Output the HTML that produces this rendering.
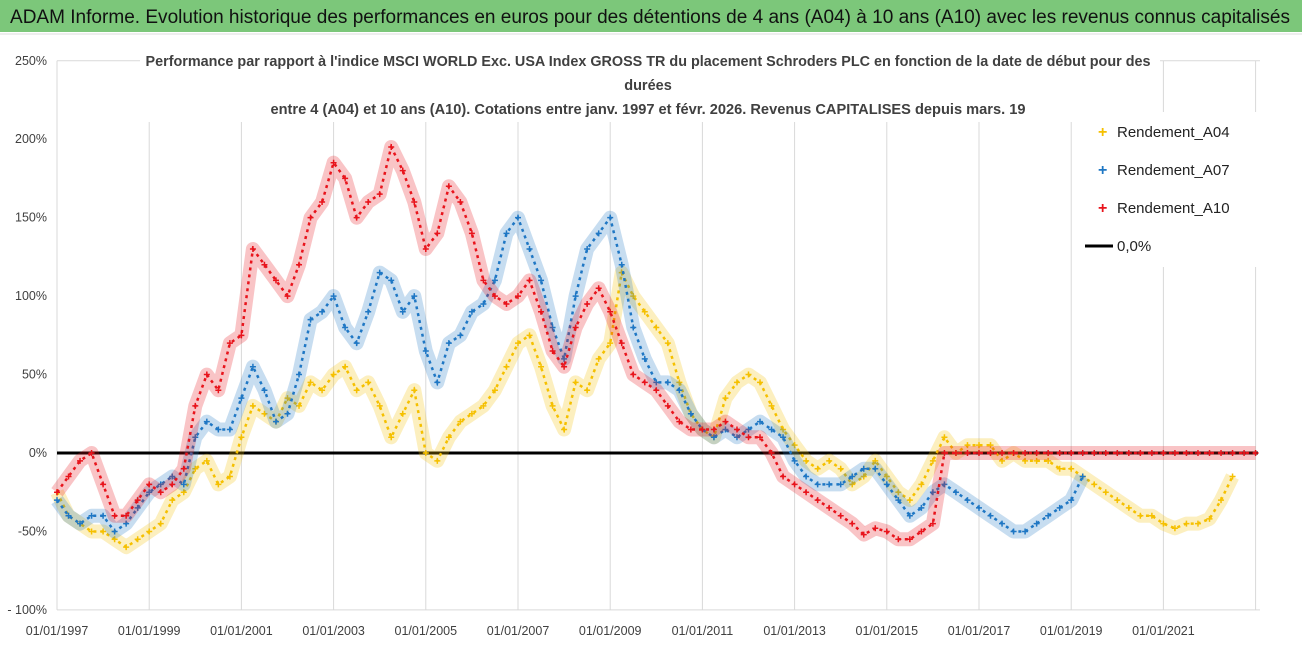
<!DOCTYPE html>
<html><head><meta charset="utf-8"><style>
html,body{margin:0;padding:0;background:#fff;}
svg{display:block;font-family:"Liberation Sans",sans-serif;}
</style></head><body>
<svg id="chart" width="1302" height="647" viewBox="0 0 1302 647" xmlns="http://www.w3.org/2000/svg">
<rect x="0" y="0" width="1302" height="647" fill="#fff"/>
<rect x="0" y="0" width="1302" height="32" fill="#7cc77a"/>
<text x="10" y="23" font-size="19" fill="#111" textLength="1280" lengthAdjust="spacingAndGlyphs">ADAM Informe. Evolution historique des performances en euros pour des détentions de 4 ans (A04) à 10 ans (A10) avec les revenus connus capitalisés</text>
<line x1="0" y1="34" x2="1302" y2="34" stroke="#ddd"/>
<g id="grid"></g>
<g id="yticks"></g>
<g id="xticks"></g>
<rect x="140" y="44" width="1020" height="78" fill="#fff"/>
<g font-size="14.5" font-weight="bold" fill="#404040" text-anchor="middle">
<text x="648" y="66" textLength="1005" lengthAdjust="spacingAndGlyphs">Performance par rapport à l'indice MSCI WORLD Exc. USA Index GROSS TR  du placement Schroders PLC en fonction de la date de début pour des</text>
<text x="648" y="90">durées</text>
<text x="648" y="114" textLength="755" lengthAdjust="spacingAndGlyphs">entre 4 (A04) et 10 ans (A10). Cotations entre janv. 1997 et févr. 2026. Revenus CAPITALISES depuis mars. 19</text>
</g>
<line id="zero" stroke="#000" stroke-width="3"/>
<g id="series"></g>
<rect x="1082" y="112" width="190" height="155" fill="#fff"/>
<g font-size="15" fill="#222">
<g><text x="1098" y="137" fill="#f5c000" font-size="16" font-weight="bold">+</text><text x="1117" y="137">Rendement_A04</text></g>
<g><text x="1098" y="175" fill="#1f77c4" font-size="16" font-weight="bold">+</text><text x="1117" y="175">Rendement_A07</text></g>
<g><text x="1098" y="213" fill="#e8141c" font-size="16" font-weight="bold">+</text><text x="1117" y="213">Rendement_A10</text></g>
<g><line x1="1085" y1="246" x2="1113" y2="246" stroke="#000" stroke-width="3"/><text x="1117" y="251">0,0%</text></g>
</g>
</svg>
<script>
const yTicks=[250,200,150,100,50,0,-50,-100];
const yTickLabels=["250%","200%","150%","100%","50%","0%","-50%","- 100%"];
const xTickYears=[1997,1999,2001,2003,2005,2007,2009,2011,2013,2015,2017,2019,2021,2023];
const xTickLabels=["01/01/1997","01/01/1999","01/01/2001","01/01/2003","01/01/2005","01/01/2007","01/01/2009","01/01/2011","01/01/2013","01/01/2015","01/01/2017","01/01/2019","01/01/2021",""];
const startYear=1997, step=0.25;
const a04=[-25,-40,-45,-50,-50,-55,-60,-55,-50,-45,-30,-25,-10,-5,-20,-15,10,30,25,20,35,30,45,40,50,55,40,45,30,10,25,40,0,-5,10,20,25,30,40,55,70,75,55,30,15,45,40,60,70,115,100,90,80,70,45,25,15,10,35,45,50,45,30,15,5,-5,-10,-5,-10,-20,-15,-5,-15,-25,-30,-20,-5,10,0,5,5,5,-5,0,-5,-5,-5,-10,-10,-15,-20,-25,-30,-35,-40,-40,-45,-48,-45,-45,-42,-30,-15];
const a07=[-30,-40,-45,-40,-40,-50,-45,-35,-25,-20,-15,-20,10,20,15,15,35,55,40,20,25,50,85,90,100,80,70,90,115,110,90,100,65,45,70,75,90,95,110,140,150,130,110,80,60,100,130,140,150,120,80,60,45,45,40,25,15,10,15,10,15,20,15,10,-5,-15,-20,-20,-20,-15,-10,-10,-20,-30,-40,-35,-25,-20,-25,-30,-35,-40,-45,-50,-50,-45,-40,-35,-30,-15];
const a10=[-25,-15,-5,0,-20,-40,-40,-30,-20,-25,-20,-10,30,50,40,70,75,130,120,110,100,120,150,160,185,175,150,160,165,195,180,160,130,140,170,160,140,110,100,95,100,110,90,65,55,80,95,105,90,70,50,45,40,30,20,15,15,15,20,15,10,10,0,-15,-20,-25,-30,-35,-40,-45,-52,-48,-50,-55,-55,-50,-45,0,0,0,0,0,0,0,0,0,0,0,0,0,0,0,0,0,0,0,0,0,0,0,0,0,0,0,0];
const X0=57, PX_PER_YEAR=46.1, Y0=453, PX_PER_PCT=1.569;
const xs=y=>X0+(y-startYear)*PX_PER_YEAR;
const ys=v=>Y0-v*PX_PER_PCT;
const NS="http://www.w3.org/2000/svg";
function mk(tag,attrs,parent){const e=document.createElementNS(NS,tag);for(const k in attrs)e.setAttribute(k,attrs[k]);parent.appendChild(e);return e;}
const grid=document.getElementById('grid'),yt=document.getElementById('yticks'),xt=document.getElementById('xticks');
mk('line',{x1:X0,y1:ys(-100),x2:1260,y2:ys(-100),stroke:'#d9d9d9'},grid);
mk('line',{x1:X0,y1:ys(250),x2:1260,y2:ys(250),stroke:'#d9d9d9'},grid);
xTickYears.forEach((yr,i)=>{
  const l=mk('line',{x1:xs(yr),y1:ys(250),x2:xs(yr),y2:ys(-100),stroke:'#d9d9d9'},grid);
  
  
  if(xTickLabels[i]){const t=mk('text',{x:xs(yr),y:635,'font-size':12.5,fill:'#404040','text-anchor':'middle'},xt);t.textContent=xTickLabels[i];
  
  }
});
yTicks.forEach((v,i)=>{
  const t=mk('text',{x:47,y:ys(v)+4,'font-size':12.5,fill:'#404040','text-anchor':'end'},yt);t.textContent=yTickLabels[i];
  
  
});
const z=document.getElementById('zero');
z.setAttribute('x1',X0);z.setAttribute('x2',1258);z.setAttribute('y1',ys(0));z.setAttribute('y2',ys(0));
const sg=document.getElementById('series');
function drawSeries(arr,color,name){
  const g=mk('g',{},sg);
  
  
  const pts=arr.map((v,i)=>xs(startYear+i*step).toFixed(1)+','+ys(v).toFixed(1)).join(' ');
  mk('polyline',{points:pts,fill:'none',stroke:color,'stroke-width':14,'stroke-opacity':0.25,'stroke-linejoin':'round'},g);
  mk('polyline',{points:pts,fill:'none',stroke:color,'stroke-width':2.5,'stroke-dasharray':'3 4'},g);
  arr.forEach((v,i)=>{
    const x=xs(startYear+i*step),y=ys(v);
    const p=mk('path',{d:`M${x-3},${y}H${x+3}M${x},${y-3}V${y+3}`,stroke:color,'stroke-width':1.5},g);
    
    
  });
}
drawSeries(a04,'#f5c000','series-a04');
drawSeries(a07,'#1f77c4','series-a07');
drawSeries(a10,'#e8141c','series-a10');
</script>
</body></html>
